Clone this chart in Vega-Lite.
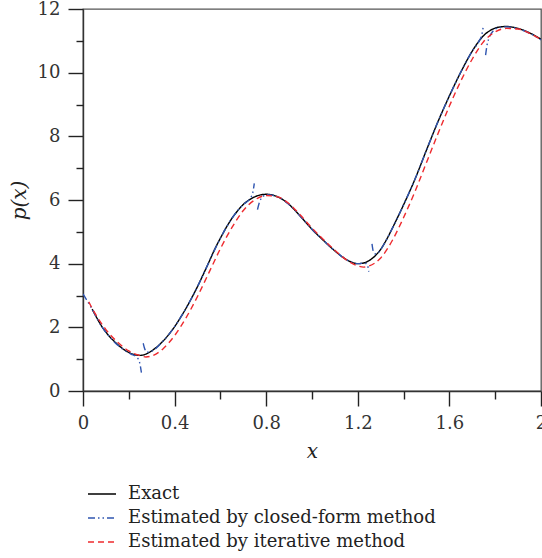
{
  "$schema": "https://vega.github.io/schema/vega-lite/v6.json",
  "autosize": "none",
  "width": 458,
  "height": 382,
  "padding": {"left": 83, "top": 9, "right": 1, "bottom": 167},
  "config": {
    "font": "DejaVu Serif",
    "view": {"stroke": "#555", "strokeWidth": 1.3},
    "axis": {"grid": false, "domainColor": "#333", "domainWidth": 1.4, "tickColor": "#222", "tickWidth": 1.4, "labelColor": "#333", "labelFont": "DejaVu Serif", "labelFontSize": 18, "titleFont": "DejaVu Serif", "titleFontSize": 20, "titleFontStyle": "italic", "titleFontWeight": "normal", "titleColor": "#222"}
  },
  "data": {"values": [
    {"s":"Exact","g":"e","x":0.04,"y":2.57},{"s":"Exact","g":"e","x":0.06,"y":2.3},{"s":"Exact","g":"e","x":0.08,"y":2.05},{"s":"Exact","g":"e","x":0.10,"y":1.85},{"s":"Exact","g":"e","x":0.125,"y":1.64},{"s":"Exact","g":"e","x":0.15,"y":1.47},{"s":"Exact","g":"e","x":0.175,"y":1.32},{"s":"Exact","g":"e","x":0.20,"y":1.21},{"s":"Exact","g":"e","x":0.225,"y":1.14},{"s":"Exact","g":"e","x":0.25,"y":1.12},{"s":"Exact","g":"e","x":0.275,"y":1.16},{"s":"Exact","g":"e","x":0.30,"y":1.26},{"s":"Exact","g":"e","x":0.325,"y":1.4},{"s":"Exact","g":"e","x":0.35,"y":1.57},{"s":"Exact","g":"e","x":0.375,"y":1.78},{"s":"Exact","g":"e","x":0.40,"y":2.02},{"s":"Exact","g":"e","x":0.425,"y":2.3},{"s":"Exact","g":"e","x":0.45,"y":2.6},{"s":"Exact","g":"e","x":0.475,"y":2.93},{"s":"Exact","g":"e","x":0.50,"y":3.28},{"s":"Exact","g":"e","x":0.525,"y":3.66},{"s":"Exact","g":"e","x":0.55,"y":4.05},{"s":"Exact","g":"e","x":0.575,"y":4.45},{"s":"Exact","g":"e","x":0.60,"y":4.8},{"s":"Exact","g":"e","x":0.625,"y":5.13},{"s":"Exact","g":"e","x":0.65,"y":5.42},{"s":"Exact","g":"e","x":0.675,"y":5.66},{"s":"Exact","g":"e","x":0.70,"y":5.86},{"s":"Exact","g":"e","x":0.725,"y":6.0},{"s":"Exact","g":"e","x":0.75,"y":6.1},{"s":"Exact","g":"e","x":0.775,"y":6.16},{"s":"Exact","g":"e","x":0.80,"y":6.18},{"s":"Exact","g":"e","x":0.825,"y":6.16},{"s":"Exact","g":"e","x":0.85,"y":6.1},{"s":"Exact","g":"e","x":0.875,"y":6.0},{"s":"Exact","g":"e","x":0.90,"y":5.86},{"s":"Exact","g":"e","x":0.925,"y":5.68},{"s":"Exact","g":"e","x":0.95,"y":5.48},{"s":"Exact","g":"e","x":0.975,"y":5.28},{"s":"Exact","g":"e","x":1.00,"y":5.08},{"s":"Exact","g":"e","x":1.05,"y":4.73},{"s":"Exact","g":"e","x":1.10,"y":4.4},{"s":"Exact","g":"e","x":1.15,"y":4.13},{"s":"Exact","g":"e","x":1.175,"y":4.04},{"s":"Exact","g":"e","x":1.20,"y":4.0},{"s":"Exact","g":"e","x":1.225,"y":4.02},{"s":"Exact","g":"e","x":1.25,"y":4.1},{"s":"Exact","g":"e","x":1.275,"y":4.24},{"s":"Exact","g":"e","x":1.30,"y":4.45},{"s":"Exact","g":"e","x":1.325,"y":4.75},{"s":"Exact","g":"e","x":1.35,"y":5.1},{"s":"Exact","g":"e","x":1.375,"y":5.47},{"s":"Exact","g":"e","x":1.40,"y":5.85},{"s":"Exact","g":"e","x":1.45,"y":6.66},{"s":"Exact","g":"e","x":1.50,"y":7.57},{"s":"Exact","g":"e","x":1.55,"y":8.46},{"s":"Exact","g":"e","x":1.60,"y":9.27},{"s":"Exact","g":"e","x":1.65,"y":10.02},{"s":"Exact","g":"e","x":1.70,"y":10.68},{"s":"Exact","g":"e","x":1.725,"y":10.95},{"s":"Exact","g":"e","x":1.75,"y":11.17},{"s":"Exact","g":"e","x":1.775,"y":11.31},{"s":"Exact","g":"e","x":1.80,"y":11.4},{"s":"Exact","g":"e","x":1.825,"y":11.44},{"s":"Exact","g":"e","x":1.85,"y":11.45},{"s":"Exact","g":"e","x":1.875,"y":11.43},{"s":"Exact","g":"e","x":1.90,"y":11.39},{"s":"Exact","g":"e","x":1.95,"y":11.25},{"s":"Exact","g":"e","x":2.00,"y":11.05},

    {"s":"Estimated by closed-form method","g":"b1","x":0,"y":3.05},{"s":"Estimated by closed-form method","g":"b1","x":0.04,"y":2.57},{"s":"Estimated by closed-form method","g":"b1","x":0.08,"y":2.05},{"s":"Estimated by closed-form method","g":"b1","x":0.125,"y":1.63},{"s":"Estimated by closed-form method","g":"b1","x":0.175,"y":1.31},{"s":"Estimated by closed-form method","g":"b1","x":0.21,"y":1.16},{"s":"Estimated by closed-form method","g":"b1","x":0.235,"y":1.06},{"s":"Estimated by closed-form method","g":"b1","x":0.247,"y":0.9},{"s":"Estimated by closed-form method","g":"b1","x":0.255,"y":0.58},
    {"s":"Estimated by closed-form method","g":"b2","x":0.263,"y":1.5},{"s":"Estimated by closed-form method","g":"b2","x":0.268,"y":1.36},{"s":"Estimated by closed-form method","g":"b2","x":0.28,"y":1.22},{"s":"Estimated by closed-form method","g":"b2","x":0.30,"y":1.25},{"s":"Estimated by closed-form method","g":"b2","x":0.35,"y":1.57},{"s":"Estimated by closed-form method","g":"b2","x":0.40,"y":2.02},{"s":"Estimated by closed-form method","g":"b2","x":0.45,"y":2.6},{"s":"Estimated by closed-form method","g":"b2","x":0.50,"y":3.28},{"s":"Estimated by closed-form method","g":"b2","x":0.55,"y":4.05},{"s":"Estimated by closed-form method","g":"b2","x":0.60,"y":4.8},{"s":"Estimated by closed-form method","g":"b2","x":0.65,"y":5.42},{"s":"Estimated by closed-form method","g":"b2","x":0.70,"y":5.86},{"s":"Estimated by closed-form method","g":"b2","x":0.73,"y":6.05},{"s":"Estimated by closed-form method","g":"b2","x":0.742,"y":6.25},{"s":"Estimated by closed-form method","g":"b2","x":0.748,"y":6.52},
    {"s":"Estimated by closed-form method","g":"b3","x":0.762,"y":5.7},{"s":"Estimated by closed-form method","g":"b3","x":0.77,"y":5.92},{"s":"Estimated by closed-form method","g":"b3","x":0.785,"y":6.1},{"s":"Estimated by closed-form method","g":"b3","x":0.80,"y":6.17},{"s":"Estimated by closed-form method","g":"b3","x":0.85,"y":6.1},{"s":"Estimated by closed-form method","g":"b3","x":0.90,"y":5.86},{"s":"Estimated by closed-form method","g":"b3","x":0.95,"y":5.48},{"s":"Estimated by closed-form method","g":"b3","x":1.00,"y":5.08},{"s":"Estimated by closed-form method","g":"b3","x":1.05,"y":4.73},{"s":"Estimated by closed-form method","g":"b3","x":1.10,"y":4.4},{"s":"Estimated by closed-form method","g":"b3","x":1.15,"y":4.13},{"s":"Estimated by closed-form method","g":"b3","x":1.20,"y":4.0},{"s":"Estimated by closed-form method","g":"b3","x":1.23,"y":4.02},{"s":"Estimated by closed-form method","g":"b3","x":1.242,"y":3.95},{"s":"Estimated by closed-form method","g":"b3","x":1.248,"y":3.75},
    {"s":"Estimated by closed-form method","g":"b4","x":1.262,"y":4.62},{"s":"Estimated by closed-form method","g":"b4","x":1.268,"y":4.38},{"s":"Estimated by closed-form method","g":"b4","x":1.28,"y":4.3},{"s":"Estimated by closed-form method","g":"b4","x":1.30,"y":4.45},{"s":"Estimated by closed-form method","g":"b4","x":1.35,"y":5.1},{"s":"Estimated by closed-form method","g":"b4","x":1.40,"y":5.85},{"s":"Estimated by closed-form method","g":"b4","x":1.45,"y":6.66},{"s":"Estimated by closed-form method","g":"b4","x":1.50,"y":7.57},{"s":"Estimated by closed-form method","g":"b4","x":1.55,"y":8.46},{"s":"Estimated by closed-form method","g":"b4","x":1.60,"y":9.27},{"s":"Estimated by closed-form method","g":"b4","x":1.65,"y":10.02},{"s":"Estimated by closed-form method","g":"b4","x":1.70,"y":10.68},{"s":"Estimated by closed-form method","g":"b4","x":1.73,"y":11.0},{"s":"Estimated by closed-form method","g":"b4","x":1.742,"y":11.2},{"s":"Estimated by closed-form method","g":"b4","x":1.748,"y":11.45},
    {"s":"Estimated by closed-form method","g":"b5","x":1.758,"y":10.55},{"s":"Estimated by closed-form method","g":"b5","x":1.764,"y":10.85},{"s":"Estimated by closed-form method","g":"b5","x":1.775,"y":11.12},{"s":"Estimated by closed-form method","g":"b5","x":1.79,"y":11.3},{"s":"Estimated by closed-form method","g":"b5","x":1.80,"y":11.38},{"s":"Estimated by closed-form method","g":"b5","x":1.85,"y":11.44},{"s":"Estimated by closed-form method","g":"b5","x":1.90,"y":11.38},{"s":"Estimated by closed-form method","g":"b5","x":1.95,"y":11.24},{"s":"Estimated by closed-form method","g":"b5","x":2.00,"y":11.03},

    {"s":"Estimated by iterative method","g":"r","x":0.025,"y":2.8},{"s":"Estimated by iterative method","g":"r","x":0.05,"y":2.47},{"s":"Estimated by iterative method","g":"r","x":0.10,"y":1.93},{"s":"Estimated by iterative method","g":"r","x":0.15,"y":1.54},{"s":"Estimated by iterative method","g":"r","x":0.20,"y":1.26},{"s":"Estimated by iterative method","g":"r","x":0.25,"y":1.11},{"s":"Estimated by iterative method","g":"r","x":0.275,"y":1.07},{"s":"Estimated by iterative method","g":"r","x":0.30,"y":1.1},{"s":"Estimated by iterative method","g":"r","x":0.35,"y":1.33},{"s":"Estimated by iterative method","g":"r","x":0.40,"y":1.74},{"s":"Estimated by iterative method","g":"r","x":0.45,"y":2.3},{"s":"Estimated by iterative method","g":"r","x":0.50,"y":2.97},{"s":"Estimated by iterative method","g":"r","x":0.55,"y":3.72},{"s":"Estimated by iterative method","g":"r","x":0.60,"y":4.47},{"s":"Estimated by iterative method","g":"r","x":0.65,"y":5.13},{"s":"Estimated by iterative method","g":"r","x":0.70,"y":5.67},{"s":"Estimated by iterative method","g":"r","x":0.75,"y":6.0},{"s":"Estimated by iterative method","g":"r","x":0.80,"y":6.14},{"s":"Estimated by iterative method","g":"r","x":0.85,"y":6.1},{"s":"Estimated by iterative method","g":"r","x":0.90,"y":5.88},{"s":"Estimated by iterative method","g":"r","x":0.95,"y":5.52},{"s":"Estimated by iterative method","g":"r","x":1.00,"y":5.12},{"s":"Estimated by iterative method","g":"r","x":1.05,"y":4.76},{"s":"Estimated by iterative method","g":"r","x":1.10,"y":4.42},{"s":"Estimated by iterative method","g":"r","x":1.15,"y":4.12},{"s":"Estimated by iterative method","g":"r","x":1.20,"y":3.93},{"s":"Estimated by iterative method","g":"r","x":1.225,"y":3.89},{"s":"Estimated by iterative method","g":"r","x":1.25,"y":3.93},{"s":"Estimated by iterative method","g":"r","x":1.30,"y":4.18},{"s":"Estimated by iterative method","g":"r","x":1.35,"y":4.72},{"s":"Estimated by iterative method","g":"r","x":1.40,"y":5.45},{"s":"Estimated by iterative method","g":"r","x":1.45,"y":6.27},{"s":"Estimated by iterative method","g":"r","x":1.50,"y":7.18},{"s":"Estimated by iterative method","g":"r","x":1.55,"y":8.08},{"s":"Estimated by iterative method","g":"r","x":1.60,"y":8.95},{"s":"Estimated by iterative method","g":"r","x":1.65,"y":9.74},{"s":"Estimated by iterative method","g":"r","x":1.70,"y":10.43},{"s":"Estimated by iterative method","g":"r","x":1.75,"y":10.98},{"s":"Estimated by iterative method","g":"r","x":1.80,"y":11.28},{"s":"Estimated by iterative method","g":"r","x":1.85,"y":11.39},{"s":"Estimated by iterative method","g":"r","x":1.90,"y":11.37},{"s":"Estimated by iterative method","g":"r","x":1.95,"y":11.24},{"s":"Estimated by iterative method","g":"r","x":2.00,"y":11.04}
  ]},
  "resolve": {"axis": {"x": "independent", "y": "independent"}},
  "layer": [
    {
      "mark": {"type": "line", "interpolate": "monotone", "strokeWidth": 1.4, "clip": true},
      "encoding": {
        "x": {"field": "x", "type": "quantitative", "scale": {"domain": [0, 2], "nice": false},
              "axis": {"orient": "bottom", "values": [0, 0.4, 0.8, 1.2, 1.6, 2], "format": ".1~f", "tickSize": 15, "labelPadding": 8, "title": "x", "titlePadding": 9, "labelFlush": false, "labelOverlap": false}},
        "y": {"field": "y", "type": "quantitative", "scale": {"domain": [0, 12], "nice": false},
              "axis": {"orient": "left", "values": [0, 2, 4, 6, 8, 10, 12], "tickSize": 15, "labelPadding": 8, "title": "p(x)", "titlePadding": 8, "labelFlush": false, "labelOverlap": false}},
        "color": {"field": "s", "type": "nominal",
                  "scale": {"domain": ["Exact", "Estimated by closed-form method", "Estimated by iterative method"], "range": ["#000000", "#2f55b0", "#ee2a2e"]},
                  "legend": {"title": null, "orient": "none", "legendX": 4, "legendY": 470, "symbolType": "stroke", "symbolSize": 784, "symbolStrokeWidth": 1.5, "labelFont": "DejaVu Serif", "labelFontSize": 18, "labelColor": "#222", "labelOffset": 11, "rowPadding": -4, "labelLimit": 500}},
        "strokeDash": {"field": "s", "type": "nominal",
                  "scale": {"domain": ["Exact", "Estimated by closed-form method", "Estimated by iterative method"], "range": [[1, 0], [7, 3, 1.5, 3, 1.5, 3], [6, 4]]},
                  "legend": {"title": null, "orient": "none", "legendX": 4, "legendY": 470, "symbolType": "stroke", "symbolSize": 784, "symbolStrokeWidth": 1.5, "labelFont": "DejaVu Serif", "labelFontSize": 18, "labelColor": "#222", "labelOffset": 11, "rowPadding": -4, "labelLimit": 500}},
        "detail": {"field": "g", "type": "nominal"}
      }
    },
    {
      "mark": {"type": "point", "opacity": 0},
      "encoding": {
        "x": {"field": "x", "type": "quantitative",
              "axis": {"orient": "bottom", "values": [0.2, 0.6, 1.0, 1.4, 1.8], "labels": false, "domain": false, "tickSize": 8, "title": null}},
        "y": {"field": "y", "type": "quantitative",
              "axis": {"orient": "left", "values": [1, 3, 5, 7, 9, 11], "labels": false, "domain": false, "tickSize": 7, "title": null}}
      }
    }
  ]
}
